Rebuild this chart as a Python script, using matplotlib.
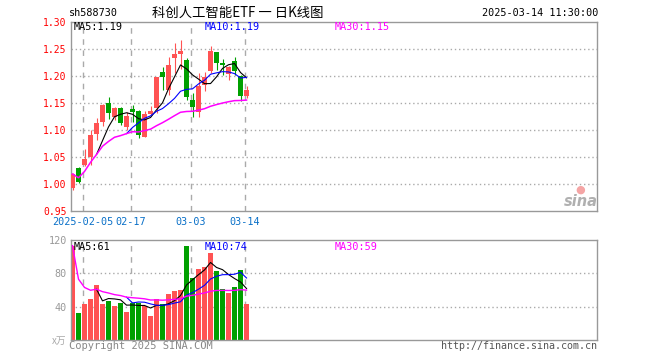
import matplotlib
matplotlib.use('Agg')
import matplotlib.pyplot as plt
import numpy as np
import pandas as pd

# daily bars, 2025
dates = ['01-24', '01-27', '02-05', '02-06', '02-07', '02-10', '02-11', '02-12', '02-13', '02-14',
         '02-17', '02-18', '02-19', '02-20', '02-21', '02-24', '02-25', '02-26', '02-27', '02-28',
         '03-03', '03-04', '03-05', '03-06', '03-07', '03-10', '03-11', '03-12', '03-13', '03-14']
opens = [0.993, 1.030, 1.036, 1.051, 1.093, 1.116, 1.151, 1.124, 1.141, 1.106,
         1.139, 1.135, 1.088, 1.130, 1.141, 1.207, 1.175, 1.234, 1.240, 1.230,
         1.156, 1.133, 1.184, 1.209, 1.245, 1.224, 1.204, 1.227, 1.201, 1.164]
highs = [1.021, 1.032, 1.065, 1.101, 1.122, 1.149, 1.162, 1.143, 1.143, 1.133,
         1.147, 1.138, 1.135, 1.144, 1.199, 1.216, 1.236, 1.261, 1.267, 1.233,
         1.169, 1.206, 1.207, 1.255, 1.245, 1.232, 1.218, 1.235, 1.202, 1.181]
lows = [0.990, 1.002, 1.034, 1.035, 1.082, 1.107, 1.120, 1.118, 1.110, 1.101,
        1.116, 1.085, 1.087, 1.128, 1.132, 1.175, 1.165, 1.206, 1.213, 1.155,
        1.125, 1.124, 1.172, 1.206, 1.211, 1.202, 1.193, 1.202, 1.154, 1.159]
closes = [1.019, 1.005, 1.047, 1.091, 1.113, 1.147, 1.132, 1.141, 1.114, 1.127,
          1.133, 1.091, 1.130, 1.136, 1.198, 1.198, 1.221, 1.240, 1.246, 1.162,
          1.142, 1.182, 1.198, 1.247, 1.224, 1.220, 1.216, 1.209, 1.164, 1.175]
# volume in 万
volumes = [113.2, 32.8, 43.2, 49.6, 66.0, 43.2, 46.8, 40.8, 44.4, 34.0,
           44.0, 44.0, 40.8, 29.2, 49.6, 42.8, 55.2, 59.2, 60.0, 112.8,
           74.4, 85.6, 87.6, 104.8, 82.8, 61.2, 56.4, 63.6, 84.0, 43.6]

date_ticks = ['02-05', '02-17', '03-03', '03-14']
date_tick_labels = ['2025-02-05', '02-17', '03-03', '03-14']
price_ticks = [0.95, 1.00, 1.05, 1.10, 1.15, 1.20, 1.25, 1.30]
vol_ticks = [40, 80, 120]

RED = '#ff5353'
GREEN = '#00a000'
GRID = '#aaaaaa'
W, H = 660, 360

x = np.arange(len(dates))
o = np.array(opens); c = np.array(closes); hi = np.array(highs); lo = np.array(lows)
up = c >= o
cols = [RED if u else GREEN for u in up]

close_s = pd.Series(closes)
vol_s = pd.Series(volumes)
ma = {
    'MA5': (close_s.rolling(5).mean(), vol_s.rolling(5).mean(), 'black'),
    'MA10': (close_s.rolling(10).mean(), vol_s.rolling(10).mean(), '#0000ff'),
    'MA30': (close_s.rolling(30, min_periods=1).mean(), vol_s.rolling(30, min_periods=1).mean(), '#ff00ff'),
}

fig = plt.figure(figsize=(6.6, 3.6), dpi=100)
fig.patch.set_facecolor('white')

def px(xp, yp):
    return xp / W, 1 - yp / H

ax1 = fig.add_axes([71 / W, 1 - 211.3 / H, 526 / W, 189.3 / H])
ax2 = fig.add_axes([71 / W, 20 / H, 526 / W, 100 / H])

grid_x = [dates.index(d) - 0.33 for d in date_ticks]

for ax in (ax1, ax2):
    ax.set_xlim(-0.25, 87.4)
    for s in ax.spines.values():
        s.set_color('#999999')
        s.set_linewidth(1)
    for gx in grid_x:
        ax.axvline(gx, color=GRID, lw=1, ls=(0, (4, 4)), zorder=0)
    ax.tick_params(length=0)

# price panel
ax1.set_ylim(0.95, 1.30)
for p in price_ticks[1:-1]:
    ax1.axhline(p, color=GRID, lw=1, ls=(0, (1, 2)), zorder=0)
ax1.vlines(x, lo, hi, colors=cols, lw=0.8, zorder=2)
body = np.maximum(np.abs(c - o), 0.0012)
ax1.bar(x, body, bottom=np.minimum(o, c), width=0.83, color=cols, lw=0, zorder=3)
for name, (mp, mv, col) in ma.items():
    ax1.plot(x, mp, color=col, lw=1.1 if name == 'MA30' else 0.8, zorder=4)
ax1.set_yticks(price_ticks)
ax1.set_yticklabels(['%.2f' % p for p in price_ticks], color='red',
                    fontfamily='DejaVu Sans Mono', fontsize=7)
ax1.tick_params(axis='y', pad=3)
ax1.set_xticks(grid_x)
ax1.set_xticklabels(date_tick_labels, color='#0a70c8', fontfamily='DejaVu Sans Mono', fontsize=7.3)
ax1.tick_params(axis='x', pad=4)

# volume panel
ax2.set_ylim(0, 120)
for v in vol_ticks[:-1]:
    ax2.axhline(v, color=GRID, lw=1, ls=(0, (1, 2)), zorder=0)
ax2.bar(x, volumes, width=0.83, color=cols, lw=0, zorder=2)
for name, (mp, mv, col) in ma.items():
    ax2.plot(x, mv, color=col, lw=1.0 if name == 'MA30' else 0.8, zorder=4)
ax2.set_yticks(vol_ticks)
ax2.set_yticklabels([str(v) for v in vol_ticks], color='#999999',
                    fontfamily='DejaVu Sans Mono', fontsize=7.3)
ax2.tick_params(axis='y', pad=3)
ax2.set_xticks([])

# MA value labels (truncated like the source)
label_x = {'MA5': 74, 'MA10': 205, 'MA30': 335}
for name, (mp, mv, col) in ma.items():
    pv = np.floor(mp.iloc[-1] * 100) / 100
    vv = int(np.floor(mv.iloc[-1]))
    fig.text(*px(label_x[name], 27), '%s:%.2f' % (name, pv), color=col,
             fontfamily='DejaVu Sans Mono', fontsize=7.3, va='center')
    fig.text(*px(label_x[name], 247), '%s:%d' % (name, vv), color=col,
             fontfamily='DejaVu Sans Mono', fontsize=7.3, va='center')

# header
fig.text(*px(69, 13), 'sh588730', fontfamily='DejaVu Sans Mono', fontsize=7.3, va='center')
fig.text(*px(238, 13), '科创人工智能ETF 一 日K线图', family=['Noto Sans CJK SC', 'DejaVu Sans'],
         fontsize=9.6, va='center', ha='center')
fig.text(*px(598, 13), '2025-03-14 11:30:00', fontfamily='DejaVu Sans Mono', fontsize=7.3,
         va='center', ha='right')

# footer
fig.text(*px(69, 346), 'Copyright 2025 SINA.COM', fontfamily='DejaVu Sans Mono', fontsize=7.5,
         color='#888888', va='center')
fig.text(*px(597, 346), 'http://finance.sina.com.cn', fontfamily='DejaVu Sans Mono', fontsize=7.2,
         color='#555555', va='center', ha='right')
fig.text(*px(66, 341), 'x万', family=['Noto Sans CJK SC', 'DejaVu Sans'], fontsize=7,
         color='#aaaaaa', va='center', ha='right')

# sina watermark
fig.text(*px(580, 190), '●', color='#f5a5a5', fontsize=8, ha='center', va='center')
fig.text(*px(581, 201), 'sina', color='#b0b0b0', fontsize=10.5, fontweight='bold',
         fontstyle='italic', ha='center', va='center')

plt.savefig('out.png', dpi=100)
